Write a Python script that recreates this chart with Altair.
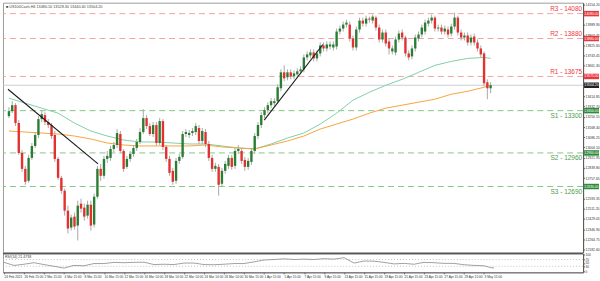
import altair as alt
import pandas as pd

header_text = "■ US100Cash,H4  13480.10 13528.30 13440.40 13504.20"
rsi_text = "RSI(14) 21.4738"

opens = [13256, 13296, 13344, 13200, 12960, 12832, 12736, 12920, 13016, 13104,
         13232, 13264, 13208, 13184, 13104, 12912, 12760, 12656, 12496, 12360,
         12448, 12376, 12552, 12520, 12456, 12544, 12384, 12608, 12832, 12776,
         12912, 12920, 12992, 13024, 13112, 12976, 12848, 12912, 12952, 13000,
         13048, 13128, 13240, 13176, 13112, 13184, 13040, 13216, 13008, 12912,
         12816, 12736, 12896, 12928, 13112, 13104, 13120, 13128, 13160, 13056,
         13128, 13032, 12920, 12832, 12848, 12712, 12816, 12856, 12920, 12856,
         12976, 12976, 12904, 12848, 12888, 12976, 13096, 13184, 13264, 13304,
         13344, 13360, 13376, 13480, 13608, 13568, 13608, 13576, 13592, 13616,
         13632, 13728, 13744, 13768, 13720, 13760, 13824, 13800, 13816, 13808,
         13816, 13936, 13960, 13992, 13992, 13880, 13808, 13952, 14024, 14000,
         14040, 14024, 14048, 13968, 13872, 13928, 13856, 13776, 13768, 13872,
         13928, 13888, 13760, 13736, 13800, 13880, 13912, 13936, 14000, 14024,
         14048, 13960, 13968, 13936, 13952, 13920, 13976, 14048, 13928, 13888,
         13904, 13848, 13896, 13848, 13800, 13760, 13528, 13480]
closes = [13296, 13344, 13200, 12960, 12832, 12728, 12920, 13016, 13104, 13232,
          13272, 13208, 13184, 13096, 12912, 12760, 12656, 12496, 12352, 12440,
          12368, 12536, 12512, 12448, 12544, 12376, 12608, 12832, 12776, 12912,
          12936, 12992, 13024, 13120, 12976, 12832, 12912, 12952, 13000, 13048,
          13128, 13240, 13176, 13112, 13184, 13040, 13216, 13008, 12912, 12800,
          12728, 12896, 12928, 13112, 13128, 13120, 13136, 13176, 13056, 13136,
          13032, 12920, 12832, 12856, 12704, 12816, 12872, 12920, 12848, 12976,
          12992, 12896, 12848, 12896, 12976, 13096, 13184, 13264, 13304, 13344,
          13376, 13376, 13488, 13608, 13560, 13608, 13576, 13600, 13616, 13632,
          13728, 13752, 13768, 13720, 13760, 13824, 13800, 13832, 13832, 13832,
          13936, 13960, 13992, 14008, 13880, 13808, 13952, 14024, 14000, 14040,
          14032, 14056, 13968, 13872, 13928, 13840, 13800, 13800, 13872, 13920,
          13888, 13760, 13728, 13800, 13888, 13912, 13968, 14008, 14024, 14048,
          13960, 13968, 13936, 13960, 13912, 13976, 14048, 13928, 13888, 13904,
          13848, 13888, 13848, 13800, 13752, 13520, 13480, 13504]
highs = [13328, 13376, 13360, 13224, 12984, 12856, 12944, 13040, 13128, 13256,
         13304, 13288, 13232, 13200, 13136, 12928, 12776, 12672, 12536, 12464,
         12480, 12576, 12592, 12552, 12576, 12576, 12632, 12856, 12872, 12936,
         12976, 13016, 13048, 13152, 13136, 12992, 12936, 12976, 13024, 13072,
         13160, 13312, 13264, 13200, 13208, 13208, 13240, 13232, 13024, 12936,
         12840, 12920, 12952, 13136, 13152, 13144, 13160, 13200, 13184, 13160,
         13152, 13056, 12944, 12880, 12872, 12840, 12896, 12944, 12944, 13000,
         13024, 13000, 12928, 12920, 13000, 13120, 13208, 13288, 13328, 13368,
         13400, 13400, 13512, 13632, 13664, 13632, 13632, 13624, 13640, 13656,
         13752, 13776, 13792, 13792, 13784, 13848, 13848, 13856, 13856, 13856,
         13960, 13984, 14016, 14032, 14016, 13904, 13976, 14048, 14048, 14064,
         14056, 14072, 14064, 13992, 13952, 13952, 13880, 13824, 13896, 13944,
         13952, 13904, 13784, 13824, 13912, 13936, 13992, 14032, 14048, 14072,
         14064, 13992, 13992, 13984, 13976, 14000, 14088, 14064, 13952, 13928,
         13928, 13912, 13920, 13872, 13824, 13776, 13552, 13528]
lows = [13240, 13280, 13176, 12944, 12808, 12704, 12720, 12904, 13000, 13080,
        13208, 13184, 13160, 13072, 12888, 12744, 12632, 12456, 12312, 12336,
        12344, 12256, 12480, 12416, 12432, 12336, 12360, 12592, 12736, 12752,
        12880, 12896, 12968, 13000, 12960, 12808, 12832, 12888, 12928, 12976,
        13032, 13112, 13152, 13096, 13088, 13016, 13024, 12984, 12888, 12776,
        12704, 12712, 12872, 12912, 13088, 13080, 13096, 13104, 13032, 13032,
        13008, 12896, 12808, 12808, 12616, 12688, 12792, 12832, 12824, 12832,
        12952, 12872, 12816, 12824, 12864, 12952, 13072, 13160, 13240, 13280,
        13320, 13336, 13352, 13456, 13536, 13544, 13552, 13552, 13568, 13592,
        13608, 13704, 13720, 13696, 13696, 13736, 13776, 13776, 13792, 13784,
        13792, 13912, 13936, 13968, 13856, 13784, 13784, 13928, 13976, 13976,
        14008, 14000, 13944, 13848, 13848, 13816, 13752, 13752, 13744, 13848,
        13864, 13736, 13704, 13712, 13776, 13856, 13888, 13912, 13976, 14000,
        13936, 13936, 13912, 13912, 13888, 13896, 13952, 13904, 13864, 13864,
        13824, 13824, 13824, 13776, 13728, 13496, 13392, 13440]

ma_idx = [0, 5, 10, 15, 20, 25, 30, 35, 40, 45, 50, 55, 60, 65, 70, 75, 80, 85, 90,
          95, 100, 105, 110, 115, 120, 125, 130, 135, 140, 145, 147]
ma_fast = [13400, 13360, 13320, 13280, 13200, 13136, 13096, 13064, 13048, 13048, 13040,
           13032, 13032, 13016, 13000, 12992, 13032, 13080, 13120, 13192, 13280, 13384,
           13448, 13504, 13552, 13608, 13664, 13696, 13720, 13728, 13720]
ma_slow = [13136, 13128, 13120, 13112, 13096, 13072, 13040, 13024, 13016, 13016, 13016,
           13016, 13024, 13008, 13000, 12992, 13024, 13056, 13096, 13152, 13192, 13232,
           13280, 13320, 13344, 13368, 13392, 13432, 13456, 13488, 13504]

trend_group = ["a", "a", "b", "b"]
trend_idx = [-0.3, 27.2, 77.9, 95.8]
trend_price = [13472, 12872, 13224, 13832]

level_values = [14080, 13880, 13575, 13300, 12960, 12690]
level_names = ["R3 - 14080", "R2 - 13880", "R1 - 13675", "S1 - 13300", "S2 - 12960", "S3 - 12690"]
level_kinds = ["R", "R", "R", "S", "S", "S"]
level_boxes = ["14080.00", "13880.00", "13575.00", "13300.00", "12960.00", "12690.00"]
last_price = [13504.2]
last_box = ["13504.20"]

price_ticks = [14154.20, 13989.90, 13907.75, 13825.60, 13743.45, 13661.30,
               13414.85, 13332.70, 13250.55, 13168.40, 13086.25,
               13004.10, 12921.95, 12839.80, 12757.65, 12593.35, 12511.20,
               12429.05, 12346.90, 12264.75, 12182.60]

date_idx = [0, 6, 12, 18, 24, 30, 36, 42, 48, 54, 60, 66, 72, 78, 84, 90, 96, 102, 108,
            114, 120, 126, 132, 138, 144]
date_labels = ["24 Feb 2021", "26 Feb 15:00", "2 Mar 15:00", "4 Mar 15:00", "8 Mar 15:00",
               "10 Mar 15:00", "12 Mar 15:00", "16 Mar 14:00", "18 Mar 14:00", "22 Mar 14:00",
               "24 Mar 14:00", "26 Mar 14:00", "30 Mar 15:00", "1 Apr 15:00", "5 Apr 15:00",
               "7 Apr 15:00", "9 Apr 15:00", "13 Apr 15:00", "15 Apr 15:00", "19 Apr 15:00",
               "21 Apr 15:00", "23 Apr 15:00", "27 Apr 15:00", "29 Apr 15:00", "3 May 15:00"]

rsi_idx = [0, 3, 6, 9, 12, 15, 18, 21, 24, 27, 30, 33, 36, 39, 42, 45, 48, 51, 54, 57, 60,
           63, 66, 69, 72, 75, 78, 81, 84, 87, 90, 93, 96, 99, 102, 105, 108, 111, 114,
           117, 120, 123, 126, 129, 132, 135, 138, 141, 144, 146, 147]
rsi_vals = [53, 35, 42, 51, 40, 30, 19, 35, 33, 46, 46, 53, 51, 53, 54, 40, 42, 40, 49, 49,
            40, 39, 42, 46, 46, 56, 67, 70, 74, 70, 72, 70, 75, 72, 81, 49, 61, 60, 53, 44,
            47, 42, 53, 51, 47, 47, 39, 35, 33, 22, 20]
rsi_ticks = [100, 70, 50, 30, 0]
rsi_levels = [70, 30]

FONT = "Liberation Sans"
GREEN_C = "#2b7d34"
RED_C = "#e2312f"

df = pd.DataFrame({"idx": list(range(len(opens))), "o": opens, "h": highs, "l": lows, "c": closes})
df["dir"] = ["up" if c >= o else "down" for o, c in zip(opens, closes)]
ma = pd.DataFrame({"idx": ma_idx, "fast": ma_fast, "slow": ma_slow})
tr = pd.DataFrame({"g": trend_group, "idx": trend_idx, "p": trend_price})
lv = pd.DataFrame({"v": level_values, "name": level_names, "kind": level_kinds, "box": level_boxes})
cur = pd.DataFrame({"v": last_price, "box": last_box})
hdr = pd.DataFrame({"t": [header_text]})
rs = pd.DataFrame({"idx": rsi_idx, "r": rsi_vals})
rl = pd.DataFrame({"r": rsi_levels})
rt = pd.DataFrame({"t": [rsi_text]})

xs = alt.Scale(domain=[-0.3, 173.7], nice=False, zero=False)
ys = alt.Scale(domain=[12160, 14168], nice=False, zero=False)
yaxis = alt.Axis(orient="right", values=price_ticks, format=".2f", title=None, grid=False,
                 tickSize=1.5, labelFontSize=3.4, labelPadding=0.5, labelColor="#333",
                 domainColor="#555", tickColor="#666", labelFont=FONT, labelOverlap=False)


def X(f):
    return alt.X(f, type="quantitative", scale=xs, axis=None)


def Y(f):
    return alt.Y(f, type="quantitative", scale=ys, axis=yaxis)


level_rules_r = alt.Chart(lv).transform_filter("datum.kind == 'R'").mark_rule(
    color="#f5a3a3", strokeDash=[6, 4], strokeWidth=1).encode(y=Y("v"))
level_rules_s = alt.Chart(lv).transform_filter("datum.kind == 'S'").mark_rule(
    color="#86c786", strokeDash=[6, 4], strokeWidth=1).encode(y=Y("v"))
cur_rule = alt.Chart(cur).mark_rule(color="#c8ced6", strokeWidth=1).encode(y=Y("v"))

ma_fast_line = alt.Chart(ma).mark_line(color="#7fd1a6", strokeWidth=1).encode(x=X("idx"), y=Y("fast"))
ma_slow_line = alt.Chart(ma).mark_line(color="#f9a33d", strokeWidth=1).encode(x=X("idx"), y=Y("slow"))

wicks = alt.Chart(df).mark_rule(color="#a8a8a8", strokeWidth=1).encode(x=X("idx"), y=Y("l"), y2="h:Q")
bodies_up = alt.Chart(df).transform_filter("datum.dir == 'up'").mark_bar(
    size=2.4, color=GREEN_C).encode(x=X("idx"), y=Y("o"), y2="c:Q")
bodies_dn = alt.Chart(df).transform_filter("datum.dir == 'down'").mark_bar(
    size=2.4, color=RED_C).encode(x=X("idx"), y=Y("o"), y2="c:Q")

trend = alt.Chart(tr).mark_line(color="#1a1a1a", strokeWidth=1.1).encode(
    x=X("idx"), y=Y("p"), detail="g:N")

lab_r = alt.Chart(lv).transform_filter("datum.kind == 'R'").mark_text(
    align="right", baseline="alphabetic", dy=-2.5, fontSize=6.5, color="#f0393c", font=FONT
).encode(x=alt.value(582), y=Y("v"), text="name:N")
lab_s = alt.Chart(lv).transform_filter("datum.kind == 'S'").mark_text(
    align="right", baseline="top", dy=2.2, fontSize=6.5, color="#4f9a4f", font=FONT
).encode(x=alt.value(582), y=Y("v"), text="name:N")

box_r = alt.Chart(lv).transform_filter("datum.kind == 'R'").mark_tick(
    orient="horizontal", thickness=5.5, size=15, color="#e8383d", opacity=1
).encode(x=alt.value(591.5), y=Y("v"))
box_s = alt.Chart(lv).transform_filter("datum.kind == 'S'").mark_tick(
    orient="horizontal", thickness=5.5, size=15, color="#2f8a3a", opacity=1
).encode(x=alt.value(591.5), y=Y("v"))
box_c = alt.Chart(cur).mark_tick(
    orient="horizontal", thickness=5.5, size=15, color="#222222", opacity=1
).encode(x=alt.value(591.5), y=Y("v"))
box_txt = alt.Chart(lv).mark_text(fontSize=3.4, color="white", font=FONT).encode(
    x=alt.value(591.5), y=Y("v"), text="box:N")
box_txt_c = alt.Chart(cur).mark_text(fontSize=3.4, color="white", font=FONT).encode(
    x=alt.value(591.5), y=Y("v"), text="box:N")

header = alt.Chart(hdr).mark_text(align="left", baseline="top", fontSize=3.8, color="#444",
                                  font=FONT).encode(x=alt.value(3), y=alt.value(2), text="t:N")

main = alt.layer(
    level_rules_r, level_rules_s, cur_rule, ma_fast_line, ma_slow_line, wicks,
    bodies_up, bodies_dn, trend, lab_r, lab_s, box_r, box_s, box_c, box_txt, box_txt_c, header
).properties(width=583, height=251)

rys = alt.Scale(domain=[-6, 106], nice=False, zero=False)
raxis = alt.Axis(orient="right", values=rsi_ticks, title=None, grid=False, tickSize=1.5,
                 labelFontSize=3.2, labelPadding=0.5, labelColor="#333", domainColor="#555",
                 tickColor="#666", labelFont=FONT, labelOverlap=False)
label_expr = "[" + ",".join("'" + s + "'" for s in date_labels) + "][round(datum.value/6)]"
xaxis = alt.Axis(values=date_idx, labelExpr=label_expr, title=None, grid=False, tickSize=1.5,
                 labelFontSize=3.2, labelAlign="left", labelPadding=0.8, labelOverlap=False,
                 labelFlush=False, labelColor="#333", labelFont=FONT, domainColor="#666",
                 tickColor="#666")


def RX(f):
    return alt.X(f, type="quantitative", scale=xs, axis=xaxis)


def RY(f):
    return alt.Y(f, type="quantitative", scale=rys, axis=raxis)


rsi_lv = alt.Chart(rl).mark_rule(color="#b5b5b5", strokeDash=[1, 2], strokeWidth=0.8).encode(y=RY("r"))
rsi_line = alt.Chart(rs).mark_line(color="#8a8a8a", strokeWidth=0.8).encode(x=RX("idx"), y=RY("r"))
rsi_top = alt.Chart(rt).mark_rule(color="#555", strokeWidth=1.5).encode(y=alt.value(0))
rsi_lab = alt.Chart(rt).mark_text(align="left", baseline="top", fontSize=3.6, color="#444",
                                  font=FONT).encode(x=alt.value(2), y=alt.value(1.5), text="t:N")

rsi = alt.layer(rsi_lv, rsi_line, rsi_top, rsi_lab).properties(width=583, height=19)

chart = alt.vconcat(main, rsi, spacing=1, bounds="flush").properties(
    padding={"left": 1, "top": 1, "right": 0, "bottom": 0},
    autosize=alt.AutoSizeParams(type="pad"),
).configure_view(stroke="#9b9b9b", strokeWidth=1)

chart.save("out.html", embed_options={"renderer": "svg", "actions": False})
